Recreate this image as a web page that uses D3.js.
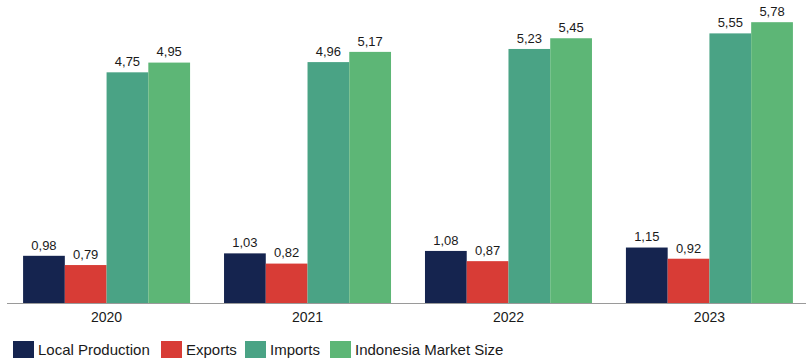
<!DOCTYPE html>
<html>
<head>
<meta charset="utf-8">
<script src="https://cdn.jsdelivr.net/npm/d3@7"></script>
<style>
  html, body { margin: 0; padding: 0; background: #fff; }
  svg { display: block; }
  text { font-family: "Liberation Sans", Arial, sans-serif; fill: #1a1a1a; }
</style>
</head>
<body>
<svg id="chart" width="806" height="359"></svg>
<script>
const years = ["2020", "2021", "2022", "2023"];
const seriesNames = ["Local Production", "Exports", "Imports", "Indonesia Market Size"];
const localProduction = [0.98, 1.03, 1.08, 1.15];
const exportsVals = [0.79, 0.82, 0.87, 0.92];
const importsVals = [4.75, 4.96, 5.23, 5.55];
const marketSize = [4.95, 5.17, 5.45, 5.78];
const colors = ["#15244f", "#d83c36", "#4aa385", "#5db676"];

const seriesValues = [localProduction, exportsVals, importsVals, marketSize];

const svg = d3.select("#chart");
const baseY = 303.5;

const x0 = d3.scaleBand().domain(years).range([6, 810])
  .paddingInner(0.169).paddingOuter(0.085);
const x1 = d3.scaleBand().domain(seriesNames).range([0, x0.bandwidth()]).padding(0);
const y = d3.scaleLinear().domain([0, 6.236]).range([baseY, 0]);

const fmt = v => d3.format(".2f")(v).replace(".", ",");

const groups = svg.selectAll("g.year").data(years).join("g")
  .attr("class", "year")
  .attr("transform", d => `translate(${x0(d)},0)`);

groups.each(function(yr, i) {
  const g = d3.select(this);
  const rows = seriesNames.map((s, k) => ({ s, k, v: seriesValues[k][i] }));
  g.selectAll("rect").data(rows).join("rect")
    .attr("x", d => x1(d.s))
    .attr("y", d => y(d.v))
    .attr("width", x1.bandwidth())
    .attr("height", d => baseY - y(d.v))
    .attr("fill", d => colors[d.k]);
  g.selectAll("text.val").data(rows).join("text")
    .attr("class", "val")
    .attr("x", d => x1(d.s) + x1.bandwidth() / 2)
    .attr("y", d => y(d.v) - 6.2)
    .attr("text-anchor", "middle")
    .attr("font-family", "'DejaVu Sans', sans-serif")
    .attr("font-size", 13)
    .text(d => fmt(d.v));
});

// category axis
const axis = svg.append("g").attr("transform", `translate(0,${baseY})`)
  .call(d3.axisBottom(x0).tickSize(0).tickPadding(8.3).tickSizeOuter(0));
axis.select(".domain").attr("stroke", "#9a9a9a").attr("d", "M7,0H806");
axis.selectAll("text").attr("font-size", 14).attr("fill", "#1a1a1a")
  .attr("font-family", "'Liberation Sans', Arial, sans-serif");

// legend
const legendX = [13, 161, 245, 330];
const legend = svg.append("g").attr("transform", "translate(0,341)");
const items = legend.selectAll("g").data(seriesNames).join("g")
  .attr("transform", (d, i) => `translate(${legendX[i]},0)`);
items.append("rect").attr("width", 21).attr("height", 17)
  .attr("fill", (d, i) => colors[i]);
items.append("text").attr("x", 25).attr("y", 13.5)
  .attr("font-size", 15).text(d => d);
</script>
</body>
</html>
